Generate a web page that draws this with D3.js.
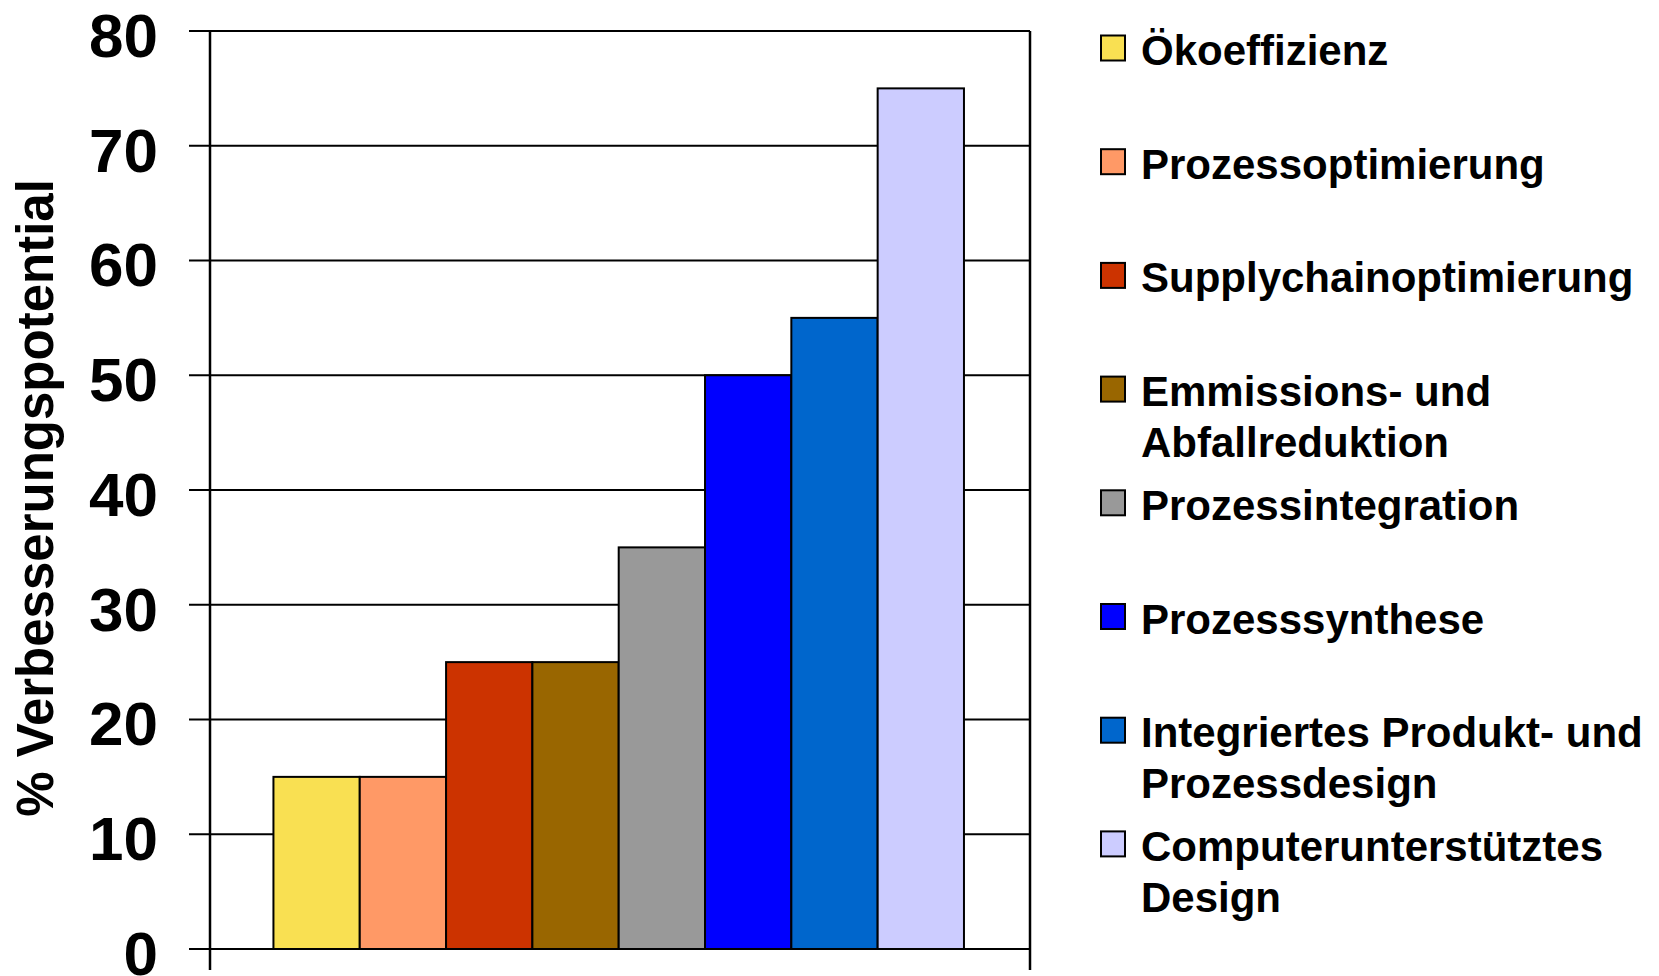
<!DOCTYPE html>
<html>
<head>
<meta charset="utf-8">
<script src="https://cdn.jsdelivr.net/npm/d3@7"></script>
<style>
  body { margin: 0; background: #fff; }
  svg { display: block; font-family: "Liberation Sans", Arial, sans-serif; font-weight: bold; }
</style>
</head>
<body>
<svg id="chart" width="1659" height="976"></svg>
<script>
// Verbesserungspotential je Methode

const seriesNames = [
    'Ökoeffizienz',
    'Prozessoptimierung',
    'Supplychainoptimierung',
    'Emmissions- und\nAbfallreduktion',
    'Prozessintegration',
    'Prozesssynthese',
    'Integriertes Produkt- und\nProzessdesign',
    'Computerunterstütztes\nDesign'
];
const seriesValues = [15, 15, 25, 25, 35, 50, 55, 75];
const seriesColors = ['#F9E052', '#FF9966', '#CC3300', '#996600', '#999999', '#0000FF', '#0066CC', '#CCCCFF'];
const yTicks = [0, 10, 20, 30, 40, 50, 60, 70, 80];
const yTitle = '% Verbesserungspotential';

const svg = d3.select('#chart');

const plot = { left: 210, right: 1030, top: 31, bottom: 949 };

const x = d3.scaleBand()
    .domain(d3.range(seriesNames.length))
    .range([plot.left, plot.right])
    .paddingInner(0)
    .paddingOuter(0.75)
    .align(0.49);

const y = d3.scaleLinear()
    .domain([0, 80])
    .range([plot.bottom, plot.top]);

// gridlines
svg.append('g')
    .selectAll('line')
    .data(yTicks)
    .enter()
    .append('line')
    .attr('x1', plot.left - 21)
    .attr('x2', plot.right)
    .attr('y1', d => y(d))
    .attr('y2', d => y(d))
    .attr('stroke', '#000')
    .attr('stroke-width', 2);

// y axis labels
const yAxis = svg.append('g')
    .attr('transform', `translate(${plot.left},0)`)
    .call(d3.axisLeft(y).tickValues(yTicks).tickSize(0).tickPadding(52));
yAxis.select('.domain').remove();
yAxis.selectAll('text')
    .attr('font-size', 62)
    .attr('font-family', '"Liberation Sans", Arial, sans-serif')
    .attr('font-weight', 'bold')
    .attr('fill', '#000')
    .attr('dy', '0.41em');

// bars
svg.append('g')
    .selectAll('rect')
    .data(seriesValues)
    .enter()
    .append('rect')
    .attr('x', (d, i) => x(i))
    .attr('y', d => y(d))
    .attr('width', x.bandwidth())
    .attr('height', d => y(0) - y(d))
    .attr('fill', (d, i) => seriesColors[i])
    .attr('stroke', '#000')
    .attr('stroke-width', 2);

// axis and right frame
svg.append('line')
    .attr('x1', plot.left).attr('x2', plot.left)
    .attr('y1', plot.top).attr('y2', 970)
    .attr('stroke', '#000').attr('stroke-width', 2.5);
svg.append('line')
    .attr('x1', plot.right).attr('x2', plot.right)
    .attr('y1', plot.top).attr('y2', 970)
    .attr('stroke', '#000').attr('stroke-width', 2.5);

// y title
svg.append('text')
    .attr('transform', 'translate(53,498) rotate(-90)')
    .attr('text-anchor', 'middle')
    .attr('font-size', 51)
    .attr('fill', '#000')
    .text(yTitle);

// legend
const legend = svg.append('g')
    .selectAll('g')
    .data(seriesNames)
    .enter()
    .append('g')
    .attr('transform', (d, i) => `translate(1101,${65 + i * 113.7})`);

legend.append('rect')
    .attr('x', 0)
    .attr('y', -29.5)
    .attr('width', 24)
    .attr('height', 25)
    .attr('fill', (d, i) => seriesColors[i])
    .attr('stroke', '#000')
    .attr('stroke-width', 2);

legend.append('text')
    .attr('x', 40)
    .attr('font-size', 42)
    .attr('fill', '#000')
    .selectAll('tspan')
    .data(d => d.split('\n'))
    .enter()
    .append('tspan')
    .attr('x', 40)
    .attr('y', (d, i) => i * 51)
    .text(d => d);
</script>
</body>
</html>
